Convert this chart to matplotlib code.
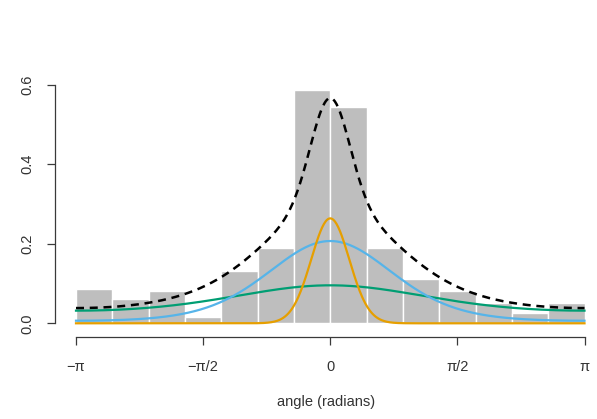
"""Histogram of angles with a three-component von Mises mixture fit.

Output: out.png
Run:   python3 plot.py
"""
import numpy as np
import matplotlib
matplotlib.use("Agg")
import matplotlib.pyplot as plt

plt.rcParams["font.family"] = ["Liberation Sans", "DejaVu Sans"]

# histogram densities for 14 equal bins on [-pi, pi]
BIN_DENSITY = [0.087, 0.062, 0.080, 0.016, 0.132, 0.190, 0.587,
               0.543, 0.189, 0.111, 0.080, 0.050, 0.025, 0.050]

# fitted mixture components (weight, concentration, mean direction)
COMP_WEIGHT = [0.157, 0.438, 0.373]
COMP_KAPPA = [18.0, 1.73, 0.55]
COMP_MU = [0.0, 0.0, 0.0]
COMP_COLOR = ["#E69F00", "#56B4E9", "#009E73"]

XTICKS = [-np.pi, -np.pi / 2, 0, np.pi / 2, np.pi]
XTICK_LABELS = ["\u2212\u03c0", "\u2212\u03c0/2", "0", "\u03c0/2", "\u03c0"]
YTICKS = [0.0, 0.2, 0.4, 0.6]

W, H = 597, 419
AXCOL = "#3a3a3a"


def vonmises(x, mu, kappa):
    return np.exp(kappa * np.cos(x - mu)) / (2 * np.pi * np.i0(kappa))


def main() -> None:
    fig = plt.figure(figsize=(W / 100, H / 100), dpi=100)
    # left spine at x=55px, bottom spine at y=336.7px
    ax = fig.add_axes([55 / W, (H - 336.7) / H, 1 - 55 / W, 336.7 / H])

    px_per_rad = (584.5 - 76) / (2 * np.pi)
    px_per_unit = (323.3 - 84.7) / 0.6
    ax.set_xlim(-np.pi - 21 / px_per_rad, np.pi + (W - 584.5) / px_per_rad)
    ax.set_ylim(-13.4 / px_per_unit, 0.6 + 84.7 / px_per_unit)

    edges = np.linspace(-np.pi, np.pi, len(BIN_DENSITY) + 1)
    ax.bar(edges[:-1], BIN_DENSITY, width=np.diff(edges), align="edge",
           color="#BEBEBE", edgecolor="white", linewidth=1.0, zorder=1)

    x = np.linspace(-np.pi, np.pi, 600)
    total = np.zeros_like(x)
    comps = []
    for w, k, mu in zip(COMP_WEIGHT, COMP_KAPPA, COMP_MU):
        y = w * vonmises(x, mu, k)
        comps.append(y)
        total += y
    for y, c in reversed(list(zip(comps, COMP_COLOR))):
        ax.plot(x, y, color=c, lw=1.6, zorder=2)
    ax.plot(x, total, color="black", lw=1.8, dashes=(3.2, 2.3), zorder=3)

    for s in ("top", "right"):
        ax.spines[s].set_visible(False)
    ax.spines["left"].set_bounds(0, 0.6)
    ax.spines["bottom"].set_bounds(-np.pi, np.pi)
    for s in ("left", "bottom"):
        ax.spines[s].set_color(AXCOL)
        ax.spines[s].set_linewidth(0.9)

    ax.set_xticks(XTICKS)
    ax.set_xticklabels(XTICK_LABELS)
    ax.set_yticks(YTICKS)
    ax.set_yticklabels([f"{v:.1f}" for v in YTICKS], rotation=90, va="center")
    ax.tick_params(colors=AXCOL, labelcolor="#333333", length=6, width=0.9,
                   labelsize=10.5)
    ax.tick_params(axis="x", pad=11)
    ax.tick_params(axis="y", pad=9)

    ax.set_xlabel("angle (radians)", fontsize=10.5, color="#333333",
                  labelpad=15)

    fig.savefig("out.png", dpi=100)
    plt.close(fig)


if __name__ == "__main__":
    main()
